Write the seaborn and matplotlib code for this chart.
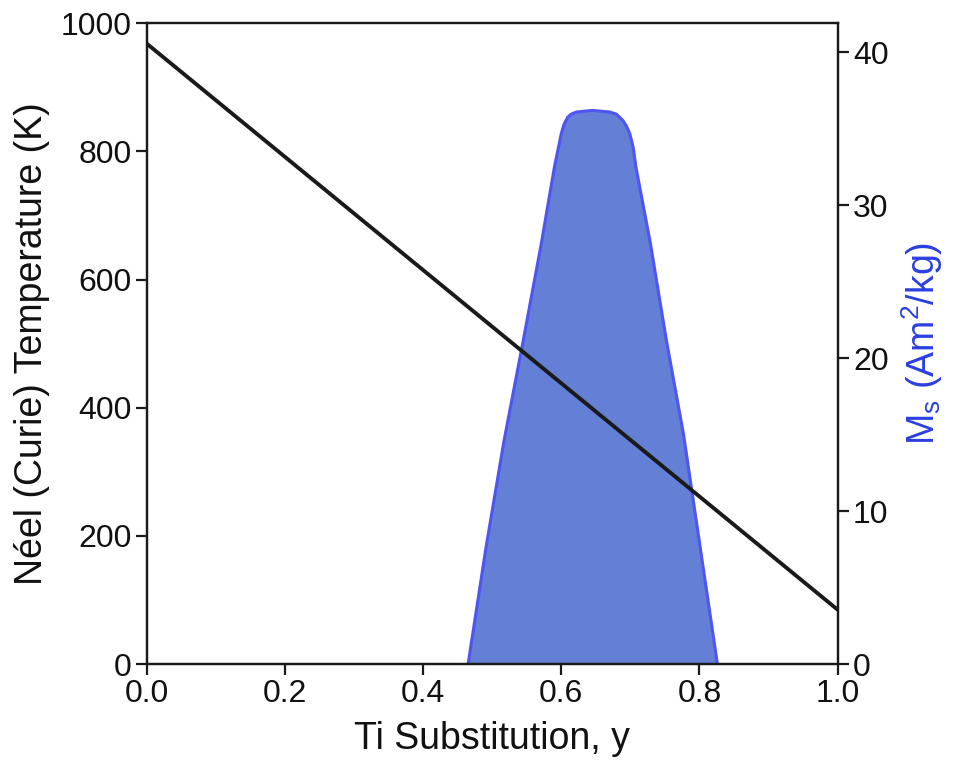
import numpy as np
import pandas as pd
import matplotlib
matplotlib.use("Agg")
import matplotlib.pyplot as plt
import seaborn as sns

## Neel / Curie temperature vs Ti substitution (straight line)
ti_line = [0.0, 1.0]
temp_k = [968, 85]

## saturation magnetisation Ms (Am2/kg) vs Ti substitution
ti_ms = [0.465, 0.491, 0.517, 0.545, 0.571, 0.590, 0.600, 0.604, 0.609, 0.614,
         0.622, 0.645, 0.670, 0.680, 0.689, 0.694, 0.699, 0.704, 0.708,
         0.729, 0.752, 0.777, 0.801, 0.826]
ms = [0, 7.65, 14.6, 21.2, 27.5, 32.5, 34.7, 35.3, 35.75, 35.95,
      36.1, 36.2, 36.1, 35.95, 35.55, 35.2, 34.7, 33.8, 32.5,
      27.5, 21.2, 15.0, 7.65, 0]

x_ticks = [0.0, 0.2, 0.4, 0.6, 0.8, 1.0]
t_ticks = [0, 200, 400, 600, 800, 1000]
ms_ticks = [0, 10, 20, 30, 40]

sns.set_style("ticks")
plt.rcParams['font.family'] = ['Liberation Sans', 'DejaVu Sans']
plt.rcParams['axes.linewidth'] = 1.6
plt.rcParams['mathtext.default'] = 'regular'
plt.rcParams['text.color'] = '#111111'
plt.rcParams['axes.labelcolor'] = '#111111'

fig = plt.figure(figsize=(9.54, 7.75), dpi=100)
ax = fig.add_axes([0.154, 0.143, 0.724, 0.827])
ax2 = ax.twinx()

ms_df = pd.DataFrame({'ti': ti_ms, 'ms': ms})
ax2.fill_between(ms_df.ti, 0, ms_df.ms, color='#6380d6', lw=0, zorder=1)
sns.lineplot(data=ms_df, x='ti', y='ms', ax=ax2, color='#4f55f0', lw=2.2,
             sort=False, zorder=2, solid_joinstyle='round')

line_df = pd.DataFrame({'ti': ti_line, 'temp': temp_k})
sns.lineplot(data=line_df, x='ti', y='temp', ax=ax, color='#1a1a1a', lw=2.8)

# put temperature line above the twin axis
ax.set_zorder(ax2.get_zorder() + 1)
ax.patch.set_visible(False)

ax.set_xlim(0, 1)
ax.set_ylim(0, 1000)
ax2.set_ylim(0, 41.9)
ax.set_xticks(x_ticks)
ax.set_yticks(t_ticks)
ax2.set_yticks(ms_ticks)

for a in (ax, ax2):
    a.tick_params(labelsize=23, width=1.6, length=8, pad=3,
                  color='#1a1a1a', labelcolor='#111111')
    for s in a.spines.values():
        s.set_color('#1a1a1a')

ax.set_xlabel('Ti Substitution, y', fontsize=27, labelpad=8)
ax.set_ylabel('Néel (Curie) Temperature (K)', fontsize=27, labelpad=8)
ax2.set_ylabel('M$_s$ (Am$^2$/kg)', fontsize=27, color='#2b3fe0', labelpad=8)

plt.savefig('out.png', dpi=100)
